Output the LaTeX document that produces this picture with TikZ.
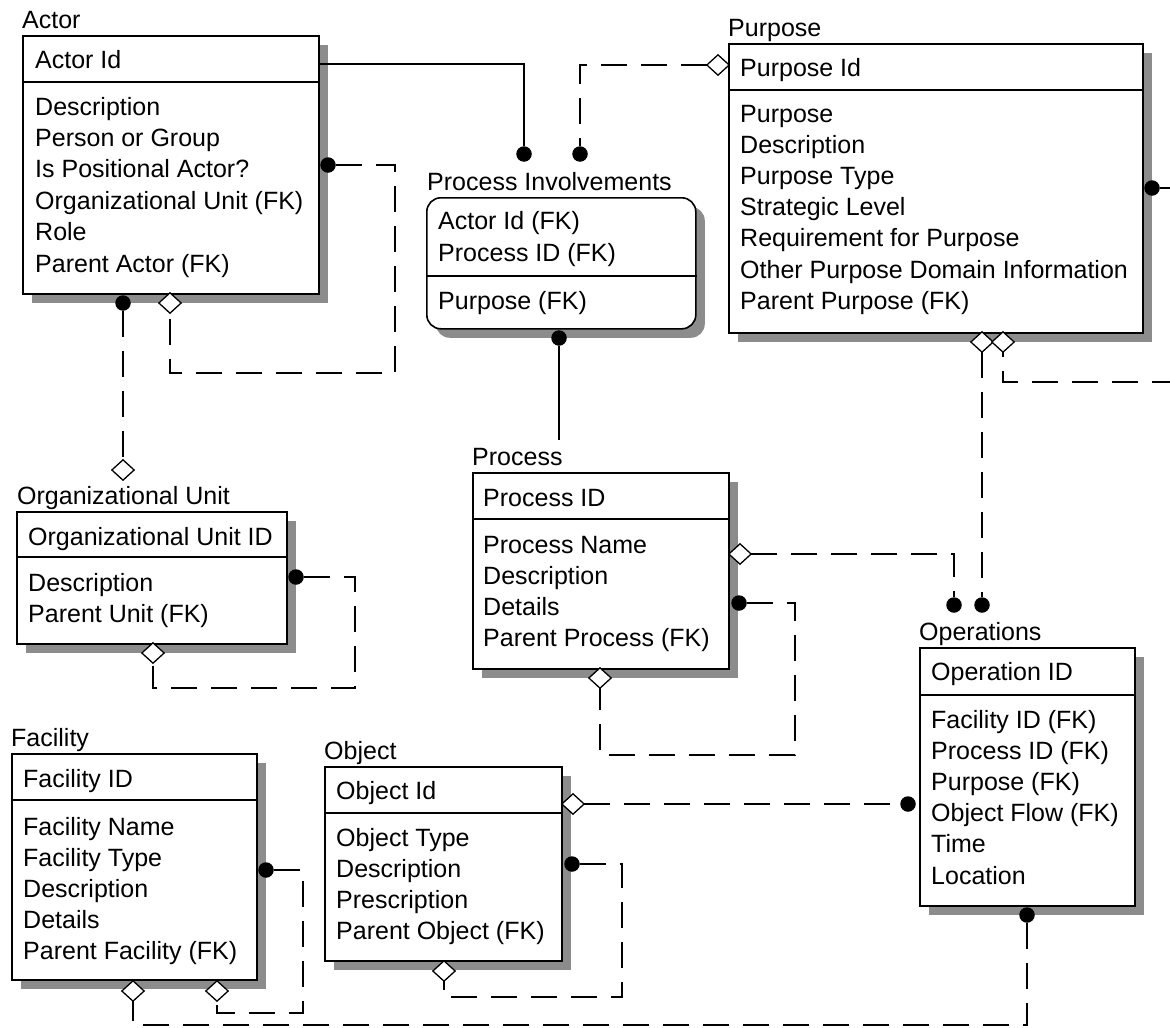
\documentclass[tikz,border=0pt]{standalone}
\usepackage{fontspec}
\setmainfont{Liberation Sans}
\usetikzlibrary{shadows,shapes.geometric,calc}
\begin{document}
\begin{tikzpicture}[x=1pt,y=-1pt,
  ent/.style={draw, line width=1.6pt, fill=white, inner sep=0pt, anchor=north west,
    general shadow={shadow xshift=9pt, shadow yshift=-9pt, fill=black!45}},
  divline/.style={line width=1.6pt},
  txt/.style={anchor=base west, inner sep=0pt, font=\fontsize{25}{31.3}\selectfont},
  rel/.style={line width=1.6pt},
  dashrel/.style={rel, dash pattern=on 26pt off 14pt},
  dot/.style={circle, fill=black, inner sep=0pt, minimum size=15.5pt},
  dia/.style={diamond, draw, fill=white, line width=1.3pt, inner sep=0pt, minimum width=21pt, minimum height=19pt}
]
\useasboundingbox (0,0) rectangle (1170,1028);
\fill[white] (0,0) rectangle (1170,1028);
\clip (0,0) rectangle (1170,1028);

% ---------- entity boxes ----------
\node[ent, minimum width=296pt, minimum height=258pt] (actor) at (22,35) {};
\draw[divline] ($(actor.north west)+(0,47)$) -- ($(actor.north east)+(0,47)$);
\node[txt] (actorT) at (22,28) {Actor};
\node[txt] (actorK) at (35,68) {Actor Id};
\foreach \t [count=\i from 0] in {Description,Person or Group,Is Positional Actor?,Organizational Unit (FK),Role,Parent Actor (FK)}
  \node[txt] (actorA\i) at (35,{115+31.4*\i}) {\t};

\node[ent, minimum width=414pt, minimum height=289pt] (purpose) at (728,43) {};
\draw[divline] ($(purpose.north west)+(0,47)$) -- ($(purpose.north east)+(0,47)$);
\node[txt] (purposeT) at (728,36) {Purpose};
\node[txt] (purposeK) at (740,76) {Purpose Id};
\foreach \t [count=\i from 0] in {Purpose,Description,Purpose Type,Strategic Level,Requirement for Purpose,Other Purpose Domain Information,Parent Purpose (FK)}
  \node[txt] (purposeA\i) at (740,{122+31.2*\i}) {\t};

\node[ent, rounded corners=14pt, minimum width=269pt, minimum height=131pt] (pi) at (426,197) {};
\draw[divline] ($(pi.north west)+(0,79)$) -- ($(pi.north east)+(0,79)$);
\node[txt] (piT) at (427,190) {Process Involvements};
\node[txt] (piK0) at (438,229) {Actor Id (FK)};
\node[txt] (piK1) at (438,261) {Process ID (FK)};
\node[txt] (piA0) at (438,309) {Purpose (FK)};

\node[ent, minimum width=270pt, minimum height=132pt] (ou) at (16,511) {};
\draw[divline] ($(ou.north west)+(0,46)$) -- ($(ou.north east)+(0,46)$);
\node[txt] (ouT) at (17,504) {Organizational Unit};
\node[txt] (ouK) at (28,545) {Organizational Unit ID};
\node[txt] (ouA0) at (28,591) {Description};
\node[txt] (ouA1) at (28,622) {Parent Unit (FK)};

\node[ent, minimum width=256pt, minimum height=196pt] (proc) at (472,472) {};
\draw[divline] ($(proc.north west)+(0,47)$) -- ($(proc.north east)+(0,47)$);
\node[txt] (procT) at (472,465) {Process};
\node[txt] (procK) at (483,506) {Process ID};
\foreach \t [count=\i from 0] in {Process Name,Description,Details,Parent Process (FK)}
  \node[txt] (procA\i) at (483,{553+31.3*\i}) {\t};

\node[ent, minimum width=215pt, minimum height=258pt] (ops) at (919,647) {};
\draw[divline] ($(ops.north west)+(0,48)$) -- ($(ops.north east)+(0,48)$);
\node[txt] (opsT) at (919,640) {Operations};
\node[txt] (opsK) at (931,680) {Operation ID};
\foreach \t [count=\i from 0] in {Facility ID (FK),Process ID (FK),Purpose (FK),Object Flow (FK),Time,Location}
  \node[txt] (opsA\i) at (931,{728+31.2*\i}) {\t};

\node[ent, minimum width=245pt, minimum height=226pt] (fac) at (11,753) {};
\draw[divline] ($(fac.north west)+(0,47)$) -- ($(fac.north east)+(0,47)$);
\node[txt] (facT) at (11,746) {Facility};
\node[txt] (facK) at (23,787) {Facility ID};
\foreach \t [count=\i from 0] in {Facility Name,Facility Type,Description,Details,Parent Facility (FK)}
  \node[txt] (facA\i) at (23,{835+31*\i}) {\t};

\node[ent, minimum width=237pt, minimum height=194pt] (obj) at (324,766) {};
\draw[divline] ($(obj.north west)+(0,47)$) -- ($(obj.north east)+(0,47)$);
\node[txt] (objT) at (324,759) {Object};
\node[txt] (objK) at (336,799) {Object Id};
\foreach \t [count=\i from 0] in {Object Type,Description,Prescription,Parent Object (FK)}
  \node[txt] (objA\i) at (336,{846+31.3*\i}) {\t};

% ---------- relationship ends ----------
\node[dot] (piDotA) at (524,154) {};
\node[dot] (piDotB) at (580,154) {};
\node[dia] (puDiaL) at (718,65) {};
\node[dot] (aDotR) at (328,165) {};
\node[dia] (aDiaB) at (170,303) {};
\node[dot] (aDotB) at (123,303) {};
\node[dia] (ouDiaT) at (123,470) {};
\node[dot] (ouDotR) at (296,577) {};
\node[dia] (ouDiaB) at (153,653) {};
\node[dot] (piDotBot) at (559,338) {};
\node[dia] (prDiaR) at (740,554) {};
\node[dot] (prDotR) at (739,603) {};
\node[dia] (prDiaB) at (600,678) {};
\node[dot] (opDotA) at (954,605) {};
\node[dot] (opDotB) at (982,605) {};
\node[dia] (puDiaB1) at (982,342) {};
\node[dia] (puDiaB2) at (1003,342) {};
\node[dot] (puDotR) at (1152,188) {};
\node[dia] (obDiaR) at (573,804) {};
\node[dot] (opDotL) at (908,804) {};
\node[dot] (obDotR) at (572,864) {};
\node[dia] (obDiaB) at (444,971) {};
\node[dot] (faDotR) at (266,870) {};
\node[dia] (faDiaB2) at (217,991) {};
\node[dia] (faDiaB1) at (133,991) {};
\node[dot] (opDotBot) at (1027,915) {};

\coordinate (actorOut) at (320,64);
\coordinate (procIn) at (559,440);

% ---------- connectors ----------
\draw[rel] (actorOut) -| (piDotA);
\draw[dashrel] (puDiaL) -| (piDotB);
\draw[dashrel] (aDotR) -| (395,373) -| (aDiaB);
\draw[dashrel] (aDotB) -- (ouDiaT);
\draw[dashrel] (ouDotR) -| (355,688) -| (ouDiaB);
\draw[rel] (piDotBot) -- (procIn);
\draw[dashrel] (prDiaR) -| (opDotA);
\draw[dashrel] (prDotR) -| (795,755) -| (prDiaB);
\draw[dashrel] (puDiaB1) -- (opDotB);
\draw[dashrel] (puDotR) -| (1192,382) -| (puDiaB2);
\draw[dashrel] (obDiaR) -- (opDotL);
\draw[dashrel] (obDotR) -| (622,997) -| (obDiaB);
\draw[dashrel] (faDotR) -| (303,1013) -| (faDiaB2);
\draw[dashrel] (opDotBot) |- (500,1025) -| (faDiaB1);

% redraw end symbols on top
\foreach \n in {puDiaL,aDiaB,ouDiaT,ouDiaB,prDiaR,prDiaB,puDiaB1,puDiaB2,obDiaR,obDiaB,faDiaB2,faDiaB1}{
  \draw[line width=1.3pt, fill=white] (\n.north) -- (\n.east) -- (\n.south) -- (\n.west) -- cycle;
}
\end{tikzpicture}
\end{document}
